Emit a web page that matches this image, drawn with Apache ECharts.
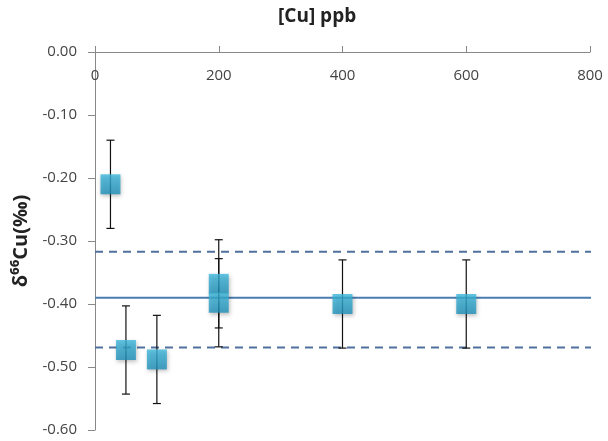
<!DOCTYPE html>
<html><head><meta charset="utf-8">
<script src="https://cdn.jsdelivr.net/npm/echarts@6/dist/echarts.min.js"></script>
<style>html,body{margin:0;padding:0;background:#fff}#c{width:608px;height:441px}</style>
</head><body><div id="c"></div>
<script>
const concentrations = [25, 50, 100, 200, 200, 400, 600];
const deltaValues = [-0.21, -0.473, -0.488, -0.368, -0.398, -0.40, -0.40];
const errorLow = [-0.28, -0.543, -0.558, -0.438, -0.468, -0.47, -0.47];
const errorHigh = [-0.14, -0.403, -0.418, -0.298, -0.328, -0.33, -0.33];
const meanLineX = [0, 815];
const meanValue = -0.39;
const upperBound = -0.317;
const lowerBound = -0.469;
const xTicks = [0, 200, 400, 600, 800];
const yTicks = [0, -0.1, -0.2, -0.3, -0.4, -0.5, -0.6];

const chart = echarts.init(document.getElementById('c'));
const font = '"Open Sans", "Liberation Sans", sans-serif';
const points = concentrations.map((x, i) => [x, deltaValues[i]]);
const errs = concentrations.map((x, i) => [x, errorLow[i], errorHigh[i]]);
const hline = v => meanLineX.map(x => [x, v]);

chart.setOption({
  animation: false,
  title: {text: '[Cu] ppb', left: 278, top: 7, padding: 0,
    textStyle: {fontFamily: font, fontWeight: 'bold', fontSize: 19, color: '#222'}},
  grid: {left: 95, right: 18, top: 52, bottom: 11},
  xAxis: {
    type: 'value', position: 'top', min: 0, max: 800, interval: 200,
    axisLine: {show: true, onZero: false, lineStyle: {color: '#888'}},
    axisTick: {show: true, inside: false, length: 6, lineStyle: {color: '#888'}},
    axisLabel: {inside: true, margin: 16, fontFamily: font, fontSize: 15, color: '#444'},
    splitLine: {show: false}
  },
  yAxis: {
    type: 'value', min: -0.6, max: 0, interval: 0.1,
    name: 'δ⁶⁶Cu(‰)', nameLocation: 'middle', nameGap: 60, nameRotate: 90,
    nameTextStyle: {fontFamily: font, fontWeight: 'bold', fontSize: 20, color: '#222'},
    axisLine: {show: true, onZero: false, lineStyle: {color: '#888'}},
    axisTick: {show: true, length: 7, lineStyle: {color: '#888'}},
    axisLabel: {fontFamily: font, fontSize: 15, color: '#444', margin: 18,
      formatter: v => v.toFixed(2)},
    splitLine: {show: false}
  },
  series: [
    {type: 'line', data: hline(meanValue), symbol: 'none', clip: false,
      lineStyle: {color: '#4a7cb0', width: 2}, z: 1},
    {type: 'line', data: hline(upperBound), symbol: 'none', clip: false,
      lineStyle: {color: '#50709e', width: 2, type: [8, 6]}, z: 1},
    {type: 'line', data: hline(lowerBound), symbol: 'none', clip: false,
      lineStyle: {color: '#50709e', width: 2, type: [8, 6]}, z: 1},
    {type: 'custom', data: errs, z: 2,
      renderItem: (params, api) => {
        const x = api.value(0);
        const lo = api.coord([x, api.value(1)]);
        const hi = api.coord([x, api.value(2)]);
        const w = 4;
        const st = {stroke: '#111', lineWidth: 1.2};
        return {type: 'group', children: [
          {type: 'line', shape: {x1: lo[0], y1: lo[1], x2: hi[0], y2: hi[1]}, style: st},
          {type: 'line', shape: {x1: lo[0]-w, y1: lo[1], x2: lo[0]+w, y2: lo[1]}, style: st},
          {type: 'line', shape: {x1: hi[0]-w, y1: hi[1], x2: hi[0]+w, y2: hi[1]}, style: st}
        ]};
      }},
    {type: 'scatter', data: points, symbol: 'rect', symbolSize: 20, z: 3,
      itemStyle: {
        color: new echarts.graphic.LinearGradient(0, 0, 0, 1, [
          {offset: 0, color: '#3db8dc'}, {offset: 1, color: '#1d8fb8'}]),
        shadowColor: 'rgba(0,0,0,0.3)', shadowBlur: 4, shadowOffsetX: 1, shadowOffsetY: 2
      }}
  ]
});
</script></body></html>
